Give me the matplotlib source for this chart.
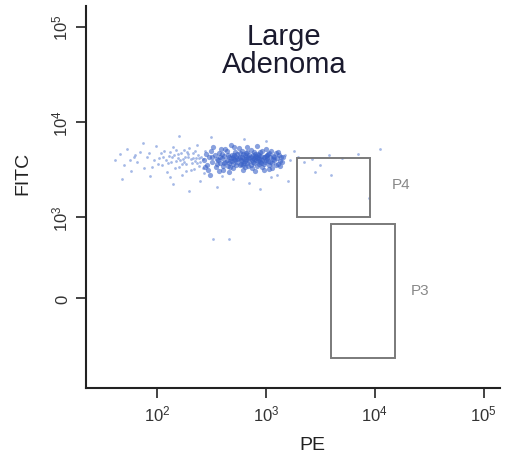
import matplotlib
matplotlib.use("Agg")
import matplotlib.pyplot as plt
from matplotlib.patches import Rectangle

plt.rcParams['font.family'] = ['Liberation Sans', 'DejaVu Sans']
plt.rcParams['mathtext.fontset'] = 'custom'
plt.rcParams['mathtext.rm'] = 'Liberation Sans'
plt.rcParams['mathtext.it'] = 'Liberation Sans'

# event positions in display units: x = log10(PE), y = FITC display decades
# (0 sits at 2.15, 10^3 at 3, 10^4 at 4, 10^5 at 5)
core = [
    (2.46, 3.55), (2.48, 3.63), (2.50, 3.70), (2.51, 3.58), (2.53, 3.66), (2.47, 3.50), (2.55, 3.61), (2.52, 3.74),
    (2.49, 3.45), (2.54, 3.53), (2.57, 3.68), (2.58, 3.57), (2.60, 3.62), (2.59, 3.72), (2.61, 3.50), (2.62, 3.65),
    (2.63, 3.58), (2.56, 3.60), (2.64, 3.70), (2.65, 3.54), (2.66, 3.63), (2.67, 3.59), (2.68, 3.76), (2.66, 3.48),
    (2.69, 3.66), (2.70, 3.56), (2.71, 3.61), (2.72, 3.69), (2.70, 3.52), (2.73, 3.64), (2.74, 3.58), (2.75, 3.73),
    (2.76, 3.55), (2.74, 3.67), (2.77, 3.60), (2.78, 3.63), (2.79, 3.50), (2.78, 3.70), (2.80, 3.57), (2.81, 3.66),
    (2.82, 3.61), (2.83, 3.74), (2.84, 3.54), (2.82, 3.68), (2.85, 3.59), (2.86, 3.64), (2.87, 3.52), (2.86, 3.71),
    (2.88, 3.62), (2.89, 3.57), (2.90, 3.67), (2.91, 3.60), (2.92, 3.75), (2.90, 3.49), (2.93, 3.63), (2.94, 3.56),
    (2.95, 3.69), (2.96, 3.61), (2.94, 3.66), (2.97, 3.53), (2.98, 3.64), (2.99, 3.58), (3.00, 3.72), (2.98, 3.50),
    (3.01, 3.62), (3.02, 3.67), (3.03, 3.55), (3.04, 3.63), (3.02, 3.59), (3.05, 3.70), (3.06, 3.57), (3.07, 3.65),
    (3.08, 3.60), (3.06, 3.52), (3.09, 3.68), (3.10, 3.62), (3.11, 3.56), (3.12, 3.66), (3.13, 3.59), (3.14, 3.63),
    (2.72, 3.60), (2.76, 3.64), (2.80, 3.61), (2.84, 3.63), (2.88, 3.58), (2.92, 3.62), (2.96, 3.65), (3.00, 3.60),
    (2.68, 3.62), (2.64, 3.60), (2.77, 3.56), (2.81, 3.59), (2.85, 3.66), (2.89, 3.61), (2.93, 3.59), (2.97, 3.60),
    (3.01, 3.66), (3.04, 3.58), (2.71, 3.66), (2.75, 3.62), (2.79, 3.67), (2.83, 3.57), (2.87, 3.60), (2.91, 3.65),
    (2.95, 3.58), (2.99, 3.63), (2.73, 3.55), (2.69, 3.59), (2.62, 3.57), (2.58, 3.64), (2.86, 3.55), (2.90, 3.63),
    (2.94, 3.61), (2.82, 3.64), (2.78, 3.59), (2.74, 3.61), (2.96, 3.57), (3.00, 3.65), (3.08, 3.64), (3.15, 3.58),
    (2.43, 3.60), (2.45, 3.67), (2.44, 3.53), (2.57, 3.49), (2.63, 3.72), (2.67, 3.53), (2.71, 3.74), (2.79, 3.55),
    (2.83, 3.69), (2.88, 3.66), (2.92, 3.54), (2.97, 3.70), (3.03, 3.51), (3.07, 3.61), (3.11, 3.69), (3.16, 3.64),
    (2.60, 3.67), (2.65, 3.66), (2.70, 3.63), (2.76, 3.68), (2.81, 3.53), (2.85, 3.62), (2.89, 3.69), (2.93, 3.67),
    (2.98, 3.56), (3.03, 3.68), (3.09, 3.55), (3.13, 3.54), (2.55, 3.56), (2.51, 3.64), (2.61, 3.54), (2.66, 3.57),
]
spread = [
    (2.02, 3.62), (2.05, 3.55), (2.07, 3.70), (2.09, 3.48), (2.11, 3.65), (2.13, 3.58), (2.15, 3.74), (2.17, 3.52),
    (2.19, 3.67), (2.21, 3.60), (2.23, 3.45), (2.25, 3.71), (2.27, 3.56), (2.29, 3.63), (2.31, 3.50), (2.33, 3.68),
    (2.35, 3.59), (2.37, 3.76), (2.39, 3.54), (2.41, 3.64), (2.43, 3.47), (2.44, 3.70), (2.36, 3.62), (2.32, 3.57),
    (2.28, 3.69), (2.24, 3.61), (2.20, 3.53), (2.16, 3.66), (2.12, 3.43), (2.08, 3.60), (2.40, 3.58), (2.38, 3.66),
    (2.34, 3.51), (2.30, 3.73), (2.26, 3.64), (2.22, 3.68), (2.18, 3.59), (2.42, 3.61), (2.14, 3.63), (2.04, 3.68),
    (2.06, 3.63), (2.10, 3.57), (2.18, 3.71), (2.23, 3.56), (2.27, 3.49), (2.31, 3.61), (2.35, 3.70), (2.39, 3.62),
    (2.42, 3.52), (2.33, 3.62), (2.25, 3.58), (2.19, 3.62), (2.12, 3.69), (2.01, 3.56), (2.37, 3.57), (2.29, 3.67),
    (1.62, 3.60), (1.66, 3.67), (1.70, 3.55), (1.73, 3.72), (1.76, 3.49), (1.79, 3.63), (1.82, 3.58), (1.85, 3.69),
    (1.88, 3.52), (1.91, 3.64), (1.94, 3.44), (1.97, 3.60), (1.99, 3.75), (1.68, 3.40), (1.87, 3.78),
    (1.93, 3.68), (1.80, 3.66), (1.75, 3.60), (1.96, 3.53),
    (2.15, 3.35), (2.40, 3.38), (2.55, 3.32), (2.70, 3.40), (2.85, 3.36), (3.05, 3.42), (3.20, 3.38), (2.30, 3.28),
    (2.95, 3.30), (2.60, 3.44), (3.10, 3.45), (2.50, 3.85), (2.80, 3.82), (3.00, 3.80), (2.20, 3.86),
    (3.18, 3.66), (3.22, 3.60), (3.26, 3.70), (3.30, 3.63), (3.35, 3.58), (3.42, 3.61), (3.50, 3.55), (3.58, 3.66),
    (3.70, 3.62), (3.45, 3.48), (3.60, 3.45), (3.85, 3.67), (4.05, 3.72), (3.95, 3.20),
    (2.52, 2.77), (2.66, 2.77),
]

# gates: (x0, x1, y0, y1) in the same display units
gates = {'P4': (3.29, 3.96, 3.00, 3.62), 'P3': (3.60, 4.19, 1.53, 2.93)}
gate_label_pos = {'P4': (4.24, 3.35), 'P3': (4.42, 2.24)}

xtick_pos = [2, 3, 4, 5]
xtick_lab = ['$10^2$', '$10^3$', '$10^4$', '$10^5$']
ytick_pos = [2.15, 3, 4, 5]
ytick_lab = ['0', '$10^3$', '$10^4$', '$10^5$']

fig = plt.figure(figsize=(5.07, 4.60), dpi=100)
ax = fig.add_axes([86/507, 1 - 389/460, 414/507, 382/460])

ax.scatter([p[0] for p in spread], [p[1] for p in spread], s=4, color='#6a8ad6', alpha=0.6,
           linewidths=0)
ax.scatter([p[0] for p in core], [p[1] for p in core], s=14, color='#3a62c8', alpha=0.6,
           linewidths=0)

for name, (x0, x1, y0, y1) in gates.items():
    ax.add_patch(Rectangle((x0, y0), x1 - x0, y1 - y0, fill=False, edgecolor='#7a7a7a', linewidth=1.4))
    lx, ly = gate_label_pos[name]
    ax.text(lx, ly, name, fontsize=11, color='#888888', ha='center', va='center')

ax.set_xlim(1.35, 5.15)
ax.set_ylim(1.21, 5.22)
for s in ['top', 'right']:
    ax.spines[s].set_visible(False)
for s in ['left', 'bottom']:
    ax.spines[s].set_linewidth(1.5)
    ax.spines[s].set_color('#222222')

ax.set_xticks(xtick_pos)
ax.set_xticklabels(xtick_lab, fontsize=12, color='#333333')
ax.set_yticks(ytick_pos)
ax.set_yticklabels(ytick_lab, fontsize=12, color='#333333', rotation=90, va='center')
ax.tick_params(length=7, width=1.2, color='#222222', pad=4)

ax.set_xlabel('PE', fontsize=14, color='#222222', va='center')
ax.xaxis.set_label_coords(0.548, -0.149)
ax.set_ylabel('FITC', fontsize=14, color='#222222', va='center')
ax.yaxis.set_label_coords(-0.152, 0.563)

fig.text(284/507, 1 - 51/460, 'Large\nAdenoma', fontsize=21, color='#1a1a2e',
         ha='center', va='center', linespacing=1.0)

fig.savefig('out.png', dpi=100, facecolor='white')
